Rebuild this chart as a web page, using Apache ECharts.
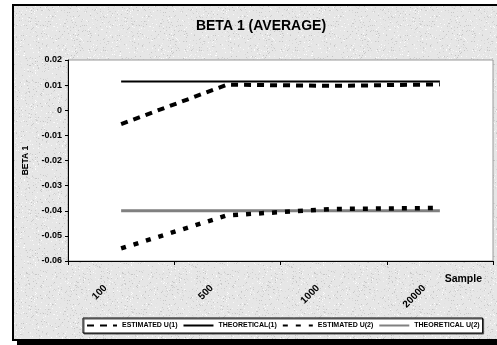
<!DOCTYPE html>
<html>
<head>
<meta charset="utf-8">
<script src="https://cdn.jsdelivr.net/npm/echarts@6/dist/echarts.min.js"></script>
<style>
  html, body { margin: 0; padding: 0; background: #fff; }
  #chart { width: 497px; height: 345px; }
</style>
</head>
<body>
<div id="chart"></div>
<script>
// Sample sizes on the category axis
const sampleSizes = ['100', '500', '1000', '20000'];
// Average estimated and theoretical BETA 1 for each sample size
const estimatedU1 = [-0.0055, 0.0102, 0.0097, 0.0103];
const theoreticalU1 = [0.0114, 0.0114, 0.0114, 0.0114];
const estimatedU2 = [-0.0550, -0.0418, -0.0393, -0.0389];
const theoreticalU2 = [-0.0400, -0.0400, -0.0400, -0.0400];
// Value-axis range and step
const yMin = -0.06, yMax = 0.02, yStep = 0.01;

// Light granite-like fill for the chart area
function graniteTexture() {
  const c = document.createElement('canvas');
  c.width = 96; c.height = 96;
  const g = c.getContext('2d');
  g.fillStyle = '#e6e6e6';
  g.fillRect(0, 0, 96, 96);
  let s = 12345;
  const next = () => { s = (s * 1103515245 + 12345) & 0x7fffffff; return s / 0x7fffffff; };
  for (let i = 0; i < 1400; i++) {
    const x = Math.floor(next() * 96), y = Math.floor(next() * 96);
    const v = Math.floor(195 + next() * 60);
    g.fillStyle = 'rgb(' + v + ',' + v + ',' + v + ')';
    g.fillRect(x, y, 1, 1);
  }
  return c;
}

const chart = echarts.init(document.getElementById('chart'), null, { renderer: 'canvas' });
const FONT = 'Liberation Sans, Arial, sans-serif';

chart.setOption({
  animation: false,
  backgroundColor: '#ffffff',
  graphic: [
    { type: 'rect', z: -20, silent: true,
      shape: { x: 17, y: 9, width: 500, height: 336 },
      style: { fill: '#000' } },
    { type: 'rect', z: -19, silent: true,
      shape: { x: 13, y: 5, width: 500, height: 335 },
      style: { fill: { image: graniteTexture(), repeat: 'repeat' }, stroke: '#000', lineWidth: 2 } }
  ],
  title: {
    text: 'BETA 1 (AVERAGE)',
    left: 256, top: 14, textAlign: 'center',
    textStyle: { fontFamily: FONT, fontSize: 14, fontWeight: 'bold', color: '#000' }
  },
  grid: {
    left: 68, right: 4, top: 60, bottom: 84,
    show: true, backgroundColor: '#ffffff', borderColor: '#9a9a9a', borderWidth: 1
  },
  legend: {
    left: 83, top: 318,
    padding: [4, 3],
    itemWidth: 30, itemHeight: 8, itemGap: 5,
    backgroundColor: '#ffffff', borderColor: '#000', borderWidth: 1,
    shadowColor: '#555', shadowOffsetX: 1, shadowOffsetY: 1,
    itemStyle: { opacity: 0 },
    textStyle: { fontFamily: FONT, fontSize: 7, fontWeight: 'bold', color: '#000' },
    data: ['ESTIMATED U(1)', 'THEORETICAL(1)', 'ESTIMATED U(2)', 'THEORETICAL U(2)']
  },
  xAxis: {
    type: 'category',
    data: sampleSizes,
    boundaryGap: true,
    name: 'Sample',
    nameLocation: 'end',
    nameGap: -11,
    nameTextStyle: { fontFamily: FONT, fontSize: 10.5, fontWeight: 'bold', color: '#000',
                     align: 'right', verticalAlign: 'top', padding: [13, 0, 0, 0] },
    axisLine: { onZero: false, lineStyle: { color: '#000', width: 1 } },
    axisTick: { show: true, length: 4, lineStyle: { color: '#000' } },
    axisLabel: { interval: 0, rotate: 45, margin: 10, padding: [0, 22, 0, 0],
                 fontFamily: FONT, fontSize: 10, fontWeight: 'bold', color: '#000' },
    splitLine: { show: false }
  },
  yAxis: {
    type: 'value',
    min: yMin, max: yMax, interval: yStep,
    name: 'BETA 1',
    nameLocation: 'middle',
    nameGap: 33,
    nameRotate: 90,
    nameTextStyle: { fontFamily: FONT, fontSize: 8.5, fontWeight: 'bold', color: '#000' },
    axisLine: { show: true, lineStyle: { color: '#000', width: 1 } },
    axisTick: { show: true, length: 3, lineStyle: { color: '#000' } },
    axisLabel: { margin: 6, fontFamily: FONT, fontSize: 9, fontWeight: 'bold', color: '#000',
                 formatter: v => String(Math.round(v * 100) / 100) },
    splitLine: { show: false }
  },
  series: [
    { name: 'THEORETICAL(1)', type: 'line', data: theoreticalU1, symbol: 'none', z: 2,
      lineStyle: { color: '#000', width: 2 }, itemStyle: { color: '#000' } },
    { name: 'THEORETICAL U(2)', type: 'line', data: theoreticalU2, symbol: 'none', z: 2,
      lineStyle: { color: '#808080', width: 3 }, itemStyle: { color: '#808080' } },
    { name: 'ESTIMATED U(1)', type: 'line', data: estimatedU1, symbol: 'none', z: 3,
      lineStyle: { color: '#000', width: 4, type: [7, 6], cap: 'butt' }, itemStyle: { color: '#000' } },
    { name: 'ESTIMATED U(2)', type: 'line', data: estimatedU2, symbol: 'none', z: 3,
      lineStyle: { color: '#000', width: 4.5, type: [5, 8], cap: 'butt' }, itemStyle: { color: '#000' } }
  ]
});
</script>
</body>
</html>
